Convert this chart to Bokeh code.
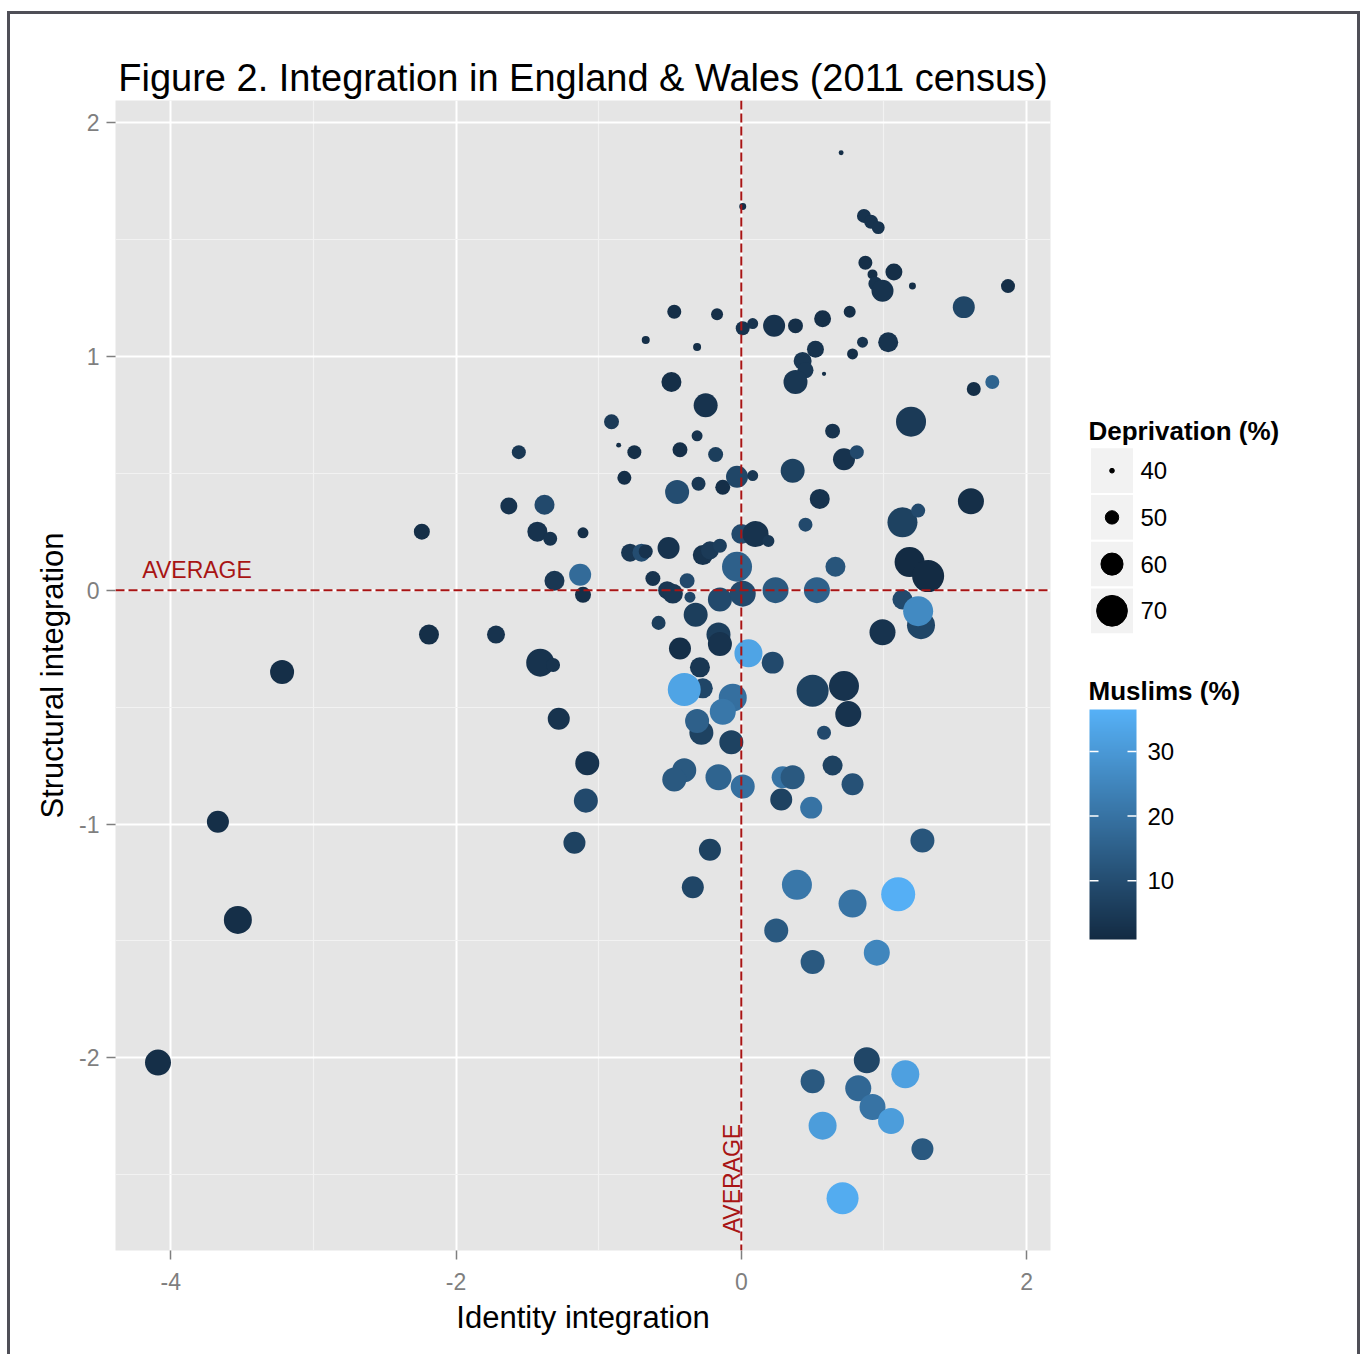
import numpy as np
from bokeh.plotting import figure
from bokeh.models import Range1d, FixedTicker, Span, LinearColorMapper, Div, ColumnDataSource
from bokeh.layouts import row
from bokeh.core.properties import value
from bokeh.embed import file_html
from bokeh.resources import INLINE

# ---------------- data ----------------
identity = [0.70, 0.01, 0.86, 0.91, 0.96, 0.87, 0.92, 1.07, 0.94, 0.99, 1.20, 1.56, 1.87,
            0.01, 0.08, 0.23, 0.38, 0.57, 0.76, 0.52, 0.85, 0.78, 1.03, 0.43, 0.45, 0.38,
            0.58, 1.63, 1.76, 1.19, -0.47, -0.17, -0.67, -0.31, -0.49, -0.25, -0.91, -0.31,
            -1.56, -0.86, -0.75, -0.43, -0.18, -0.82, -0.30, -0.45, -0.13, -0.03, 0.08,
            -1.63, -1.38, -1.43, -1.34, -1.11, -0.78, -0.70, -0.67, -0.51, -0.27, -0.22,
            -0.15, -0.03, 0.00, 0.10, 0.19, -1.31, -1.13, -1.11, -0.62, -0.38, -0.36, -0.52,
            -0.48, -0.15, 0.01, -0.32, -0.58, -1.72, -0.43, -0.16, -0.15, 0.05, -1.41, -1.32,
            -0.29, 0.64, 0.72, 0.81, 0.36, 0.55, 0.45, 1.13, 1.24, 1.61, 1.18, 1.31, 0.66,
            0.24, 0.53, 1.13, 1.26, 1.24, 0.99, 0.22, -0.27, -0.40, -0.06, -0.13, -0.28,
            -0.31, -0.07, -1.28, -1.08, -0.40, -0.47, -0.16, 0.01, -1.09, -1.17, -0.22,
            -0.34, 0.50, 0.72, 0.75, 0.58, 0.64, 0.29, 0.36, 0.78, 0.28, 0.49, 1.27, 0.39,
            0.78, 1.10, 0.245, 0.50, 0.95, 0.88, 1.15, 0.50, 0.82, 0.92, 1.05, 0.57, 1.27,
            0.71, -2.24, -2.19, -3.22, -3.67, -3.53, -4.09]
structural = [1.87, 1.64, 1.60, 1.575, 1.55, 1.40, 1.35, 1.36, 1.31, 1.28, 1.30, 1.21, 1.30,
              1.12, 1.14, 1.13, 1.13, 1.16, 1.19, 1.03, 1.06, 1.01, 1.06, 0.98, 0.94, 0.89,
              0.925, 0.86, 0.89, 0.72, 1.19, 1.18, 1.07, 1.04, 0.89, 0.79, 0.72, 0.66,
              0.59, 0.62, 0.59, 0.60, 0.58, 0.48, 0.455, 0.42, 0.44, 0.485, 0.49,
              0.36, 0.365, 0.25, 0.22, 0.245, 0.16, 0.16, 0.165, 0.18, 0.15, 0.17,
              0.19, 0.10, 0.24, 0.24, 0.21, 0.04, 0.066, -0.02, 0.05, 0.04, -0.03, 0.00,
              -0.015, -0.04, -0.015, -0.105, -0.14, -0.19, -0.25, -0.19, -0.23, -0.27, -0.31, -0.32,
              -0.33, 0.68, 0.56, 0.59, 0.51, 0.39, 0.28, 0.29, 0.34, 0.38, 0.12, 0.06, 0.10,
              0.00, 0.00, -0.04, -0.15, -0.09, -0.18, -0.31, -0.42, -0.425, -0.46, -0.52, -0.61,
              -0.56, -0.65, -0.55, -0.74, -0.77, -0.81, -0.80, -0.84, -0.90, -1.08, -1.11,
              -1.27, -0.43, -0.41, -0.53, -0.61, -0.75, -0.80, -0.80, -0.83, -0.895, -0.93, -1.07, -1.26,
              -1.34, -1.30, -1.455, -1.59, -1.55, -2.01, -2.07, -2.10, -2.13, -2.21, -2.27, -2.29, -2.39,
              -2.60, 0.25, -0.19, -0.35, -0.99, -1.41, -2.02]
deprivation = [40.3, 42.6, 50.7, 50.7, 49.5, 50.7, 46.1, 54.1, 50.7, 59.9, 42.6, 59.9, 50.7,
               50.7, 47.2, 59.9, 51.8, 54.1, 48.4, 54.1, 47.2, 47.2, 57.6, 55.3, 53.0, 62.2,
               39.5, 50.7, 50.7, 69.1, 50.7, 48.4, 43.8, 43.8, 57.6, 62.2, 51.8, 47.2,
               50.7, 40.3, 50.7, 51.8, 51.8, 50.7, 50.7, 62.2, 51.8, 59.9, 47.2,
               54.1, 57.6, 57.6, 50.7, 47.2, 55.3, 55.3, 50.7, 59.9, 57.6, 55.3,
               50.7, 69.1, 57.6, 64.5, 48.4, 57.6, 59.9, 53.0, 51.8, 51.8, 47.2, 55.3,
               57.6, 62.2, 64.5, 62.2, 50.7, 55.3, 59.9, 62.2, 62.2, 66.8, 66.8, 50.7,
               57.6, 51.8, 59.9, 50.7, 62.2, 57.6, 50.7, 69.1, 50.7, 64.5, 69.1, 71.4, 57.6,
               64.5, 64.5, 57.6, 66.8, 69.1, 64.5, 59.9, 57.6, 72.5, 66.8, 64.5, 62.2,
               62.2, 62.2, 59.9, 62.2, 62.2, 62.2, 64.5, 62.2, 62.2, 59.9, 59.9,
               59.9, 71.4, 69.1, 64.5, 50.7, 57.6, 59.9, 62.2, 59.9, 59.9, 59.9, 62.2, 69.1,
               66.8, 73.7, 62.2, 62.2, 64.5, 64.5, 66.8, 62.2, 64.5, 64.5, 64.5, 66.8, 59.9,
               71.4, 53.0, 57.6, 62.2, 59.9, 66.8, 64.5]
muslims = [2, 2, 3, 3, 3, 2, 2, 2, 3, 3, 2, 8, 2,
           3, 3, 3, 2, 2, 2, 3, 3, 2, 3, 4, 4, 4,
           2, 2, 16, 5, 2, 2, 2, 2, 2, 3, 5, 3,
           4, 2, 2, 2, 6, 2, 4, 10, 2, 8, 4,
           3, 9, 3, 3, 2, 4, 10, 3, 3, 3, 5,
           6, 15, 9, 3, 4, 4, 18, 2, 3, 9, 8, 4,
           4, 9, 9, 6, 6, 3, 2, 6, 3, 33, 3, 3,
           4, 3, 3, 9, 7, 3, 9, 7, 9, 2, 1, 1, 12,
           13, 15, 9, 8, 26, 3, 9, 8, 33, 19, 21, 7,
           15, 7, 3, 3, 13, 13, 16, 19, 9, 7, 7,
           8, 7, 3, 3, 9, 7, 20, 13, 11, 7, 20, 12, 21,
           20, 36, 13, 13, 25, 8, 32, 13, 17, 20, 31, 31, 13,
           35, 2, 2, 2, 2, 2, 2]

x_ticks = [-4, -2, 0, 2]
x_tick_labels = ["-4", "-2", "0", "2"]
x_minor = [-3, -1, 1]
y_ticks = [-2, -1, 0, 1, 2]
y_tick_labels = ["-2", "-1", "0", "1", "2"]
y_minor = [-2.5, -1.5, -0.5, 0.5, 1.5]
dep_breaks = [40, 50, 60, 70]
mus_breaks = [10, 20, 30]
mus_limits = [0.9, 36.5]

# ---------------- styles ----------------
FONT = "Liberation Sans"
RED = "#A81414"
LOW_C, HIGH_C = "#132B43", "#56B1F7"


def hex2rgb(h):
    return tuple(int(h[i:i + 2], 16) for i in (1, 3, 5))


lo_rgb, hi_rgb = hex2rgb(LOW_C), hex2rgb(HIGH_C)
palette = ["#%02x%02x%02x" % tuple(int(round(a + (b - a) * t)) for a, b in zip(lo_rgb, hi_rgb))
           for t in np.linspace(0, 1, 256)]
mapper = LinearColorMapper(palette=palette, low=mus_limits[0], high=mus_limits[1])


def dot_size(d):
    return 4.7 + 0.87 * (np.asarray(d, dtype=float) - 40.0)


def expand(vals, frac=0.05):
    lo, hi = min(vals), max(vals)
    pad = frac * (hi - lo)
    return Range1d(lo - pad, hi + pad)


# page geometry (canvas starts at the page's top-left corner)
W1, W2, H = 1075, 270, 1346
F_LEFT, F_TOP, F_RIGHT, F_BOTTOM = 115, 100, 1050, 1250

p = figure(width=W1, height=H, x_range=expand(identity), y_range=expand(structural),
           output_backend="svg", toolbar_location=None,
           min_border_left=F_LEFT, min_border_right=W1 - F_RIGHT,
           min_border_top=F_TOP, min_border_bottom=H - F_BOTTOM,
           background_fill_color="#E5E5E5", border_fill_color="white", outline_line_color=None,
           title="Figure 2. Integration in England & Wales (2011 census)")

p.title.align = "center"
p.title.text_font = FONT
p.title.text_font_size = "38px"
p.title.text_font_style = "normal"
p.title.text_color = "black"
p.title.standoff = 4

p.xaxis.ticker = FixedTicker(ticks=x_ticks, minor_ticks=x_minor)
p.yaxis.ticker = FixedTicker(ticks=y_ticks, minor_ticks=y_minor)
p.xaxis.major_label_overrides = dict(zip(x_ticks, x_tick_labels))
p.yaxis.major_label_overrides = dict(zip(y_ticks, y_tick_labels))

p.grid.grid_line_color = "white"
p.grid.grid_line_width = 2
p.grid.minor_grid_line_color = "#F2F2F2"
p.grid.minor_grid_line_width = 1.2

p.axis.axis_line_color = None
p.axis.major_tick_line_color = "#7F7F7F"
p.axis.major_tick_line_width = 1.5
p.axis.major_tick_out = 9
p.axis.major_tick_in = 0
p.axis.minor_tick_line_color = None
p.axis.major_label_text_color = "#7F7F7F"
p.axis.major_label_text_font = FONT
p.axis.major_label_text_font_size = "23px"
p.xaxis.major_label_standoff = 13
p.yaxis.major_label_standoff = 7

p.xaxis.axis_label = "Identity integration"
p.yaxis.axis_label = "Structural integration"
p.axis.axis_label_text_font = FONT
p.axis.axis_label_text_font_size = "31px"
p.axis.axis_label_text_font_style = "normal"
p.axis.axis_label_text_color = "black"
p.xaxis.axis_label_standoff = 7
p.yaxis.axis_label_standoff = 6

src = ColumnDataSource(dict(x=identity, y=structural, dep=deprivation, mus=muslims,
                            size=dot_size(deprivation)))
p.scatter("x", "y", size="size", source=src, marker="circle",
          fill_color={"field": "mus", "transform": mapper}, line_color=None)

p.add_layout(Span(location=0, dimension="height", line_color=RED, line_dash="9 4", line_width=2))
p.add_layout(Span(location=0, dimension="width", line_color=RED, line_dash="9 4", line_width=2))

p.text(x=[-4.2], y=[0.088], text=["AVERAGE"], text_font=value(FONT), text_font_size="23px",
       text_color=RED, text_align="left", text_baseline="alphabetic")
p.text(x=[-0.065], y=[-2.75], text=["AVERAGE"], text_font=value(FONT), text_font_size="23px",
       text_color=RED, text_align="left", text_baseline="alphabetic", angle=np.pi / 2)

# ---------------- legend panel (coordinates = page pixels) ----------------
leg = figure(width=W2, height=H, x_range=Range1d(W1, W1 + W2), y_range=Range1d(F_BOTTOM, F_TOP),
             output_backend="svg", toolbar_location=None,
             min_border_left=0, min_border_right=0,
             min_border_top=F_TOP, min_border_bottom=H - F_BOTTOM,
             x_axis_location=None, y_axis_location=None, outline_line_color=None,
             background_fill_color="white", border_fill_color="white")
leg.grid.visible = False

key_x, key_w, key_pitch, key_y0 = 1111.5, 44, 46.7, 470.2
key_y = [key_y0 + key_pitch * i for i in range(len(dep_breaks))]
leg.text(x=[1088], y=[430.6], text=["Deprivation (%)"], text_font=value(FONT),
         text_font_size="26px", text_font_style="bold", text_baseline="middle", text_color="black")
leg.rect(x=key_x, y=key_y, width=key_w, height=key_pitch, fill_color="#F2F2F2",
         line_color="white", line_width=2)
leg.scatter(x=key_x, y=key_y, size=dot_size(dep_breaks), marker="circle", color="black")
leg.text(x=1140, y=key_y, text=[str(b) for b in dep_breaks], text_font=value(FONT),
         text_font_size="24px", text_baseline="middle", text_color="black")

# colour bar
bar_top, bar_bot, bar_x0, bar_w = 709, 939, 1089, 47
lo, hi = mus_limits
k = (hi - lo) / (bar_bot - bar_top)
leg.extra_y_ranges = {"mus": Range1d(lo - (F_BOTTOM - bar_bot) * k, hi + (bar_top - F_TOP) * k)}
leg.text(x=[1088], y=[690], text=["Muslims (%)"], text_font=value(FONT),
         text_font_size="26px", text_font_style="bold", text_baseline="middle", text_color="black")
leg.image(image=[np.linspace(lo, hi, 256).reshape(-1, 1)], x=bar_x0, y=lo, dw=bar_w, dh=hi - lo,
          color_mapper=mapper, y_range_name="mus")
leg.segment(x0=bar_x0, x1=bar_x0 + 9, y0=mus_breaks, y1=mus_breaks, y_range_name="mus",
            line_color="white", line_width=1.5)
leg.segment(x0=bar_x0 + bar_w - 9, x1=bar_x0 + bar_w, y0=mus_breaks, y1=mus_breaks,
            y_range_name="mus", line_color="white", line_width=1.5)
leg.text(x=1147, y=mus_breaks, text=[str(b) for b in mus_breaks], y_range_name="mus",
         text_font=value(FONT), text_font_size="24px", text_baseline="middle", text_color="black")

frame = Div(text='<div style="position:fixed;left:7px;top:11px;width:1353px;height:1400px;'
                 'border:3px solid #4f4f57;box-sizing:border-box;pointer-events:none;"></div>',
            width=1, height=1)

layout = row(p, leg, frame)
open("out.html", "w").write(file_html(layout, INLINE))
